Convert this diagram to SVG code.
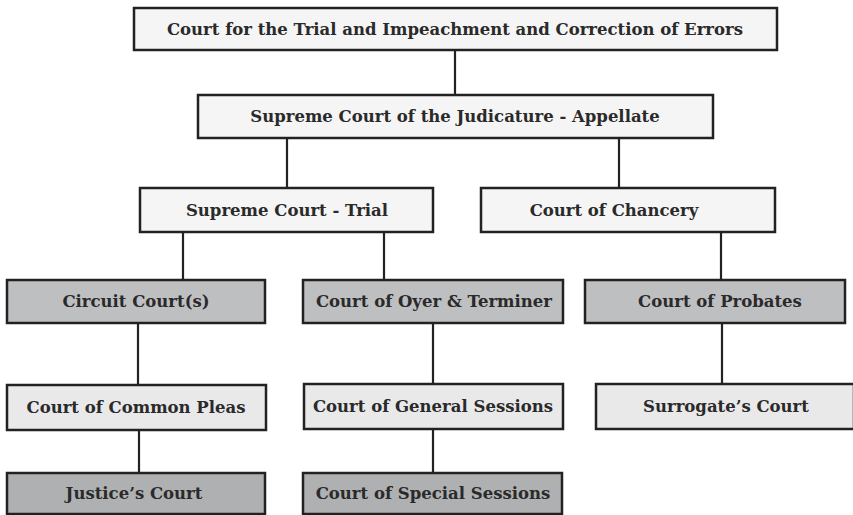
<svg xmlns="http://www.w3.org/2000/svg" width="853" height="515" viewBox="0 0 853 515">
<style>
rect{stroke:#222;stroke-width:2.5}
.l1{fill:#f5f5f5}
.l3{fill:#bebfc1}
.l4{fill:#e9e9ea}
.l5{fill:#afb0b2}
text{font-family:"DejaVu Serif","Liberation Serif",serif;font-weight:bold;font-size:16.5px;fill:#2a2a2a;text-anchor:middle}
#connectors line{stroke:#222;stroke-width:2.2}
</style>
<rect width="853" height="515" fill="#fff" style="stroke:none"/>
<g id="connectors">
<line x1="455" y1="50" x2="455" y2="95"/>
<line x1="287" y1="138" x2="287" y2="188"/>
<line x1="619" y1="138" x2="619" y2="188"/>
<line x1="183" y1="232" x2="183" y2="280"/>
<line x1="384" y1="232" x2="384" y2="280"/>
<line x1="721" y1="232" x2="721" y2="280"/>
<line x1="138" y1="323" x2="138" y2="385"/>
<line x1="433" y1="323" x2="433" y2="384"/>
<line x1="722" y1="323" x2="722" y2="384"/>
<line x1="139" y1="430" x2="139" y2="473"/>
<line x1="433" y1="429" x2="433" y2="473"/>
</g>
<g id="n1"><rect class="l1" x="134" y="8" width="643" height="42"/><text x="455" y="35">Court for the Trial and Impeachment and Correction of Errors</text></g>
<g id="n2"><rect class="l1" x="198" y="95" width="515" height="43"/><text x="455" y="122">Supreme Court of the Judicature - Appellate</text></g>
<g id="n3"><rect class="l1" x="140" y="188" width="293" height="44"/><text x="287" y="216">Supreme Court - Trial</text></g>
<g id="n4"><rect class="l1" x="481" y="188" width="294" height="44"/><text x="614" y="216">Court of Chancery</text></g>
<g id="n5"><rect class="l3" x="7" y="280" width="258" height="43"/><text x="136" y="307">Circuit Court(s)</text></g>
<g id="n6"><rect class="l3" x="303" y="280" width="260" height="43"/><text x="434" y="307">Court of Oyer &amp; Terminer</text></g>
<g id="n7"><rect class="l3" x="585" y="280" width="260" height="43"/><text x="720" y="307">Court of Probates</text></g>
<g id="n8"><rect class="l4" x="7" y="385" width="259" height="45"/><text x="136" y="413">Court of Common Pleas</text></g>
<g id="n9"><rect class="l4" x="304" y="384" width="259" height="45"/><text x="433" y="412">Court of General Sessions</text></g>
<g id="n10"><rect class="l4" x="596" y="384" width="258" height="45"/><text x="726" y="412">Surrogate’s Court</text></g>
<g id="n11"><rect class="l5" x="7" y="473" width="258" height="41"/><text x="134" y="499">Justice’s Court</text></g>
<g id="n12"><rect class="l5" x="303" y="473" width="259" height="41"/><text x="433" y="499">Court of Special Sessions</text></g>
</svg>
